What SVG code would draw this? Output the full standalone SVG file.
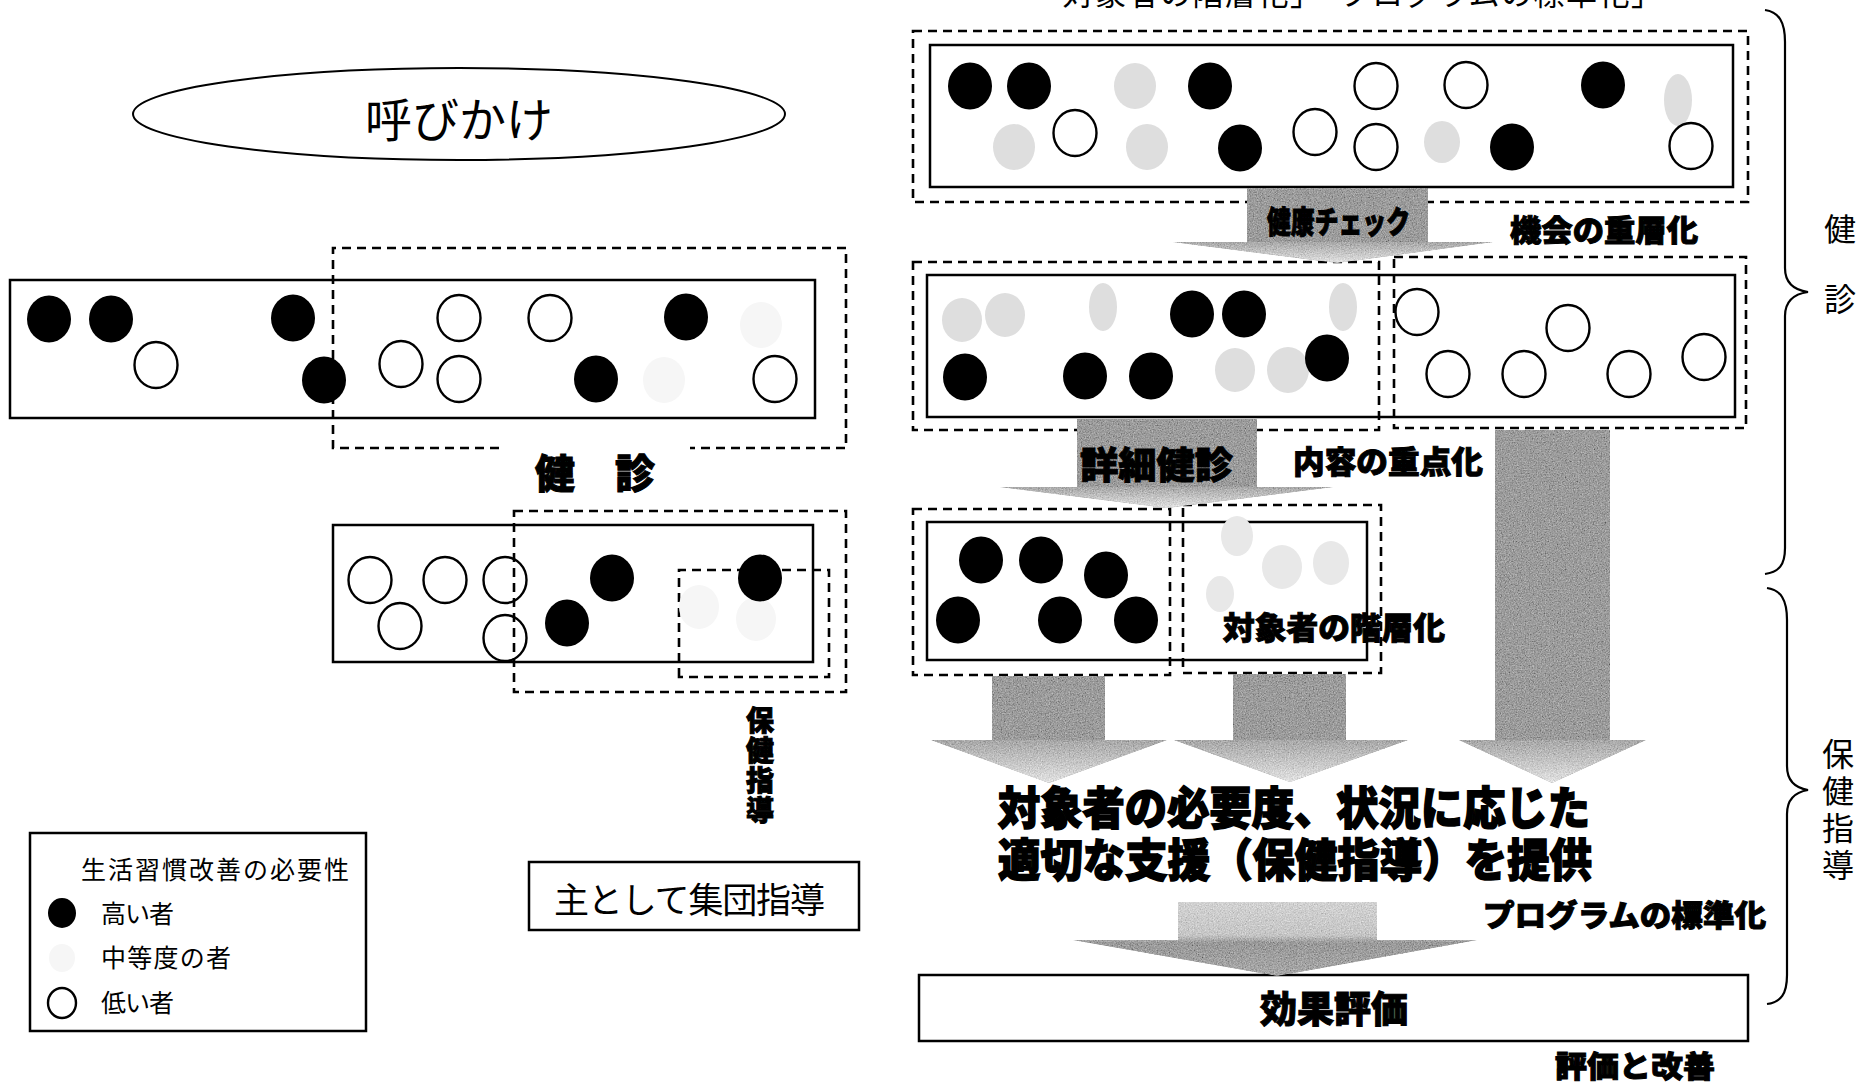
<svg xmlns="http://www.w3.org/2000/svg" width="1860" height="1083" viewBox="0 0 1860 1083">
<style>
.reg{font-family:"Noto Sans CJK JP","Noto Sans CJK SC",sans-serif;font-weight:400;fill:#000}
.hv{font-family:"Noto Sans CJK JP","Noto Sans CJK SC",sans-serif;font-weight:900;fill:#000;stroke:#000;stroke-width:1}
.big{stroke-width:1.6}
.vert{writing-mode:vertical-rl;text-orientation:upright}
.box{fill:none;stroke:#000;stroke-width:2.5}
.dash{fill:none;stroke:#000;stroke-width:2.6;stroke-dasharray:9 6}
.bk{fill:#000}
.wh{fill:none;stroke:#000;stroke-width:2.4}
.fa{fill:#dedede}
.fc{fill:#e8e8e8}
.fl{fill:#f6f6f6}
.shaft{fill:#9c9c9c}
.head{fill:url(#headGrad)}
.brace{fill:none;stroke:#000;stroke-width:2.2}
</style>
<defs>
<linearGradient id="headGrad" x1="0" y1="0" x2="0" y2="1">
<stop offset="0" stop-color="#a8a8a8"/>
<stop offset="1" stop-color="#e2e2e2"/>
</linearGradient>
<linearGradient id="lastGrad" x1="0" y1="0" x2="0" y2="1">
<stop offset="0" stop-color="#d2d2d2"/>
<stop offset="0.45" stop-color="#c6c6c6"/>
<stop offset="0.55" stop-color="#9a9a9a"/>
<stop offset="1" stop-color="#a8a8a8"/>
</linearGradient>
<filter id="grain" x="-2%" y="-2%" width="104%" height="104%">
<feTurbulence type="fractalNoise" baseFrequency="0.75" numOctaves="3" seed="7" result="n"/>
<feColorMatrix in="n" type="matrix" values="0.33 0.33 0.33 0 0 0.33 0.33 0.33 0 0 0.33 0.33 0.33 0 0 0 0 0 0 1" result="g"/>
<feComposite in="SourceGraphic" in2="g" operator="arithmetic" k1="0" k2="1" k3="0.9" k4="-0.45" result="m"/>
<feComposite in="m" in2="SourceGraphic" operator="in"/>
</filter>
</defs>
<rect x="0" y="0" width="1860" height="1083" fill="#fff"/>

<g id="title">
<text class="reg" x="1030" y="5" font-size="31" textLength="632">「対象者の階層化」「プログラムの標準化」</text>
</g>

<g id="yobikake">
<ellipse cx="459" cy="114" rx="326" ry="46" fill="none" stroke="#000" stroke-width="2"/>
<text class="reg" x="459" y="137" font-size="47" text-anchor="middle">呼びかけ</text>
</g>

<g id="left-panel-1">
<rect class="box" x="10" y="280" width="805" height="138"/>
<path class="dash" d="M499,448 H333 V248 H846 V448 H690"/>
<ellipse class="fl" cx="761" cy="325" rx="21" ry="23"/>
<ellipse class="fl" cx="664" cy="380" rx="21" ry="23"/>
<ellipse class="wh" cx="156" cy="365" rx="21.5" ry="23"/>
<ellipse class="wh" cx="459" cy="318" rx="21.5" ry="23"/>
<ellipse class="wh" cx="550" cy="318" rx="21.5" ry="23"/>
<ellipse class="wh" cx="401" cy="364" rx="21.5" ry="23"/>
<ellipse class="wh" cx="459" cy="379" rx="21.5" ry="23"/>
<ellipse class="wh" cx="775" cy="379" rx="21.5" ry="23"/>
<ellipse class="bk" cx="49" cy="319" rx="22" ry="23.5"/>
<ellipse class="bk" cx="111" cy="319" rx="22" ry="23.5"/>
<ellipse class="bk" cx="293" cy="318" rx="22" ry="23.5"/>
<ellipse class="bk" cx="324" cy="380" rx="22" ry="23.5"/>
<ellipse class="bk" cx="686" cy="317" rx="22" ry="23.5"/>
<ellipse class="bk" cx="596" cy="379" rx="22" ry="23.5"/>
<text class="hv" x="535" y="488" font-size="40">健　診</text>
</g>

<g id="left-panel-2">
<rect class="box" x="333" y="525" width="480" height="137"/>
<rect class="dash" x="514" y="511" width="332" height="181"/>
<path class="dash" d="M679,677 V570 H829 V677 Z"/>
<ellipse class="fl" cx="699" cy="607" rx="20" ry="22"/>
<ellipse class="fl" cx="756" cy="619" rx="20" ry="22"/>
<ellipse class="wh" cx="370" cy="580" rx="21.5" ry="23"/>
<ellipse class="wh" cx="445" cy="580" rx="21.5" ry="23"/>
<ellipse class="wh" cx="505" cy="580" rx="21.5" ry="23"/>
<ellipse class="wh" cx="400" cy="626" rx="21.5" ry="23"/>
<ellipse class="wh" cx="505" cy="638" rx="21.5" ry="23"/>
<ellipse class="bk" cx="612" cy="578" rx="22" ry="23.5"/>
<ellipse class="bk" cx="567" cy="623" rx="22" ry="23.5"/>
<ellipse class="bk" cx="760" cy="578" rx="22" ry="23.5"/>
<text class="hv vert" x="760" y="706" font-size="28" letter-spacing="2">保健指導</text>
</g>

<g id="legend">
<rect class="box" x="30" y="833" width="336" height="198" stroke-width="2"/>
<text class="reg" x="81" y="879" font-size="25" textLength="268">生活習慣改善の必要性</text>
<ellipse class="bk" cx="62" cy="913" rx="14" ry="15"/>
<text class="reg" x="101" y="923" font-size="25" textLength="73">高い者</text>
<ellipse class="fl" cx="62" cy="958" rx="13" ry="14"/>
<text class="reg" x="101" y="967" font-size="25" textLength="130">中等度の者</text>
<ellipse class="wh" cx="62" cy="1003" rx="14" ry="15" stroke-width="2"/>
<text class="reg" x="101" y="1012" font-size="25" textLength="73">低い者</text>
</g>

<g id="group-guidance">
<rect class="box" x="529" y="862" width="330" height="68" stroke-width="2"/>
<text class="reg" x="554" y="913" font-size="35" textLength="271">主として集団指導</text>
</g>

<g id="panel-a">
<rect class="dash" x="913" y="31" width="835" height="171"/>
<rect class="box" x="930" y="45" width="803" height="142"/>
<ellipse class="fa" cx="1135" cy="86" rx="21" ry="23"/>
<ellipse class="fa" cx="1014" cy="147" rx="21" ry="23"/>
<ellipse class="fa" cx="1147" cy="147" rx="21" ry="23"/>
<ellipse class="fa" cx="1442" cy="142" rx="18" ry="21"/>
<ellipse class="fa" cx="1678" cy="100" rx="14" ry="26"/>
<ellipse class="wh" cx="1075" cy="133" rx="21.5" ry="23"/>
<ellipse class="wh" cx="1376" cy="86" rx="21.5" ry="23"/>
<ellipse class="wh" cx="1466" cy="85" rx="21.5" ry="23"/>
<ellipse class="wh" cx="1315" cy="132" rx="21.5" ry="23"/>
<ellipse class="wh" cx="1376" cy="147" rx="21.5" ry="23"/>
<ellipse class="wh" cx="1691" cy="146" rx="21.5" ry="23"/>
<ellipse class="bk" cx="970" cy="86" rx="22" ry="23.5"/>
<ellipse class="bk" cx="1029" cy="86" rx="22" ry="23.5"/>
<ellipse class="bk" cx="1210" cy="86" rx="22" ry="23.5"/>
<ellipse class="bk" cx="1240" cy="148" rx="22" ry="23.5"/>
<ellipse class="bk" cx="1603" cy="85" rx="22" ry="23.5"/>
<ellipse class="bk" cx="1512" cy="147" rx="22" ry="23.5"/>
<text class="hv" x="1510" y="241" font-size="30" textLength="188" lengthAdjust="spacingAndGlyphs">機会の重層化</text>
</g>

<g id="panel-b">
<rect class="dash" x="913" y="262" width="466" height="168"/>
<rect class="dash" x="1394" y="257" width="352" height="171"/>
<rect class="box" x="927" y="275" width="808" height="142"/>
<ellipse class="fa" cx="962" cy="320" rx="20" ry="22"/>
<ellipse class="fa" cx="1005" cy="315" rx="20" ry="22"/>
<ellipse class="fa" cx="1103" cy="307" rx="14" ry="24"/>
<ellipse class="fa" cx="1235" cy="370" rx="20" ry="22"/>
<ellipse class="fa" cx="1288" cy="370" rx="21" ry="23"/>
<ellipse class="fa" cx="1343" cy="307" rx="14" ry="24"/>
<ellipse class="wh" cx="1417" cy="312" rx="21.5" ry="23"/>
<ellipse class="wh" cx="1568" cy="328" rx="21.5" ry="23"/>
<ellipse class="wh" cx="1448" cy="374" rx="21.5" ry="23"/>
<ellipse class="wh" cx="1524" cy="374" rx="21.5" ry="23"/>
<ellipse class="wh" cx="1629" cy="374" rx="21.5" ry="23"/>
<ellipse class="wh" cx="1704" cy="357" rx="21.5" ry="23"/>
<ellipse class="bk" cx="965" cy="377" rx="22" ry="23.5"/>
<ellipse class="bk" cx="1085" cy="376" rx="22" ry="23.5"/>
<ellipse class="bk" cx="1151" cy="376" rx="22" ry="23.5"/>
<ellipse class="bk" cx="1192" cy="314" rx="22" ry="23.5"/>
<ellipse class="bk" cx="1244" cy="314" rx="22" ry="23.5"/>
<ellipse class="bk" cx="1327" cy="358" rx="22" ry="23.5"/>
<text class="hv" x="1293" y="473" font-size="31" textLength="190" lengthAdjust="spacingAndGlyphs">内容の重点化</text>
</g>

<g id="panel-c">
<rect class="dash" x="913" y="509" width="257" height="166"/>
<rect class="dash" x="1183" y="505" width="198" height="168"/>
<rect class="box" x="927" y="522" width="440" height="138"/>
<ellipse class="fc" cx="1237" cy="536" rx="16" ry="20"/>
<ellipse class="fc" cx="1282" cy="567" rx="20" ry="22"/>
<ellipse class="fc" cx="1331" cy="563" rx="18" ry="22"/>
<ellipse class="fc" cx="1220" cy="594" rx="14" ry="18"/>
<ellipse class="bk" cx="981" cy="560" rx="22" ry="23.5"/>
<ellipse class="bk" cx="1041" cy="560" rx="22" ry="23.5"/>
<ellipse class="bk" cx="1106" cy="575" rx="22" ry="23.5"/>
<ellipse class="bk" cx="958" cy="620" rx="22" ry="23.5"/>
<ellipse class="bk" cx="1060" cy="620" rx="22" ry="23.5"/>
<ellipse class="bk" cx="1136" cy="620" rx="22" ry="23.5"/>
<text class="hv" x="1223" y="639" font-size="31" textLength="222" lengthAdjust="spacingAndGlyphs">対象者の階層化</text>
</g>

<g id="support-text">
<text class="hv big" font-size="45"><tspan x="998" y="825" textLength="592" lengthAdjust="spacingAndGlyphs">対象者の必要度、状況に応じた</tspan><tspan x="998" y="877" textLength="594" lengthAdjust="spacingAndGlyphs">適切な支援（保健指導）を提供</tspan></text>
<text class="hv" x="1483" y="926" font-size="30" textLength="283" lengthAdjust="spacingAndGlyphs">プログラムの標準化</text>
</g>

<g id="evaluation">
<rect class="box" x="919" y="975" width="829" height="66" stroke-width="2"/>
<text class="hv" x="1334" y="1023" font-size="37" text-anchor="middle">効果評価</text>
<text class="hv" x="1555" y="1077" font-size="30" textLength="160" lengthAdjust="spacingAndGlyphs">評価と改善</text>
</g>

<g id="brace-kenshin">
<path class="brace" d="M1765,10 C1779,12 1785,22 1785,42 V268 C1785,283 1794,290 1808,292 C1794,294 1785,301 1785,316 V548 C1785,565 1779,572 1765,574"/>
<text class="reg" x="1840" y="241" font-size="32" text-anchor="middle">健</text>
<text class="reg" x="1840" y="311" font-size="32" text-anchor="middle">診</text>
</g>

<g id="brace-hoken">
<path class="brace" d="M1767,588 C1781,590 1787,600 1787,620 V766 C1787,781 1796,788 1808,790 C1796,792 1787,799 1787,814 V975 C1787,994 1781,1002 1767,1004"/>
<text class="reg vert" x="1838" y="738" font-size="32" letter-spacing="5">保健指導</text>
</g>

<g id="connectors">
<g filter="url(#grain)">
<rect class="shaft" x="1247" y="188" width="181" height="54" fill="#a2a2a2"/>
<polygon class="head" points="1173,242 1493,242 1337,263"/>
</g>
<text class="hv" x="1267" y="233" font-size="31" textLength="143" lengthAdjust="spacingAndGlyphs">健康チェック</text>
<g filter="url(#grain)">
<rect class="shaft" x="1077" y="419" width="180" height="68"/>
<polygon class="head" points="1000,487 1333,487 1167,508"/>
</g>
<text class="hv" x="1080" y="479" font-size="37" textLength="153" lengthAdjust="spacingAndGlyphs">詳細健診</text>
<g filter="url(#grain)">
<rect class="shaft" x="1495" y="430" width="115" height="311"/>
<polygon class="head" points="1459,740 1646,740 1552,783"/>
</g>
<g filter="url(#grain)">
<rect class="shaft" x="992" y="676" width="113" height="65"/>
<polygon class="head" points="931,740 1167,740 1049,783"/>
</g>
<g filter="url(#grain)">
<rect class="shaft" x="1233" y="674" width="113" height="67"/>
<polygon class="head" points="1174,740 1408,740 1290,782"/>
</g>
<g filter="url(#grain)">
<path d="M1178,902 H1377 V940 H1477 L1277,976 L1073,940 H1178 Z" fill="url(#lastGrad)"/>
</g>
</g>
</svg>
